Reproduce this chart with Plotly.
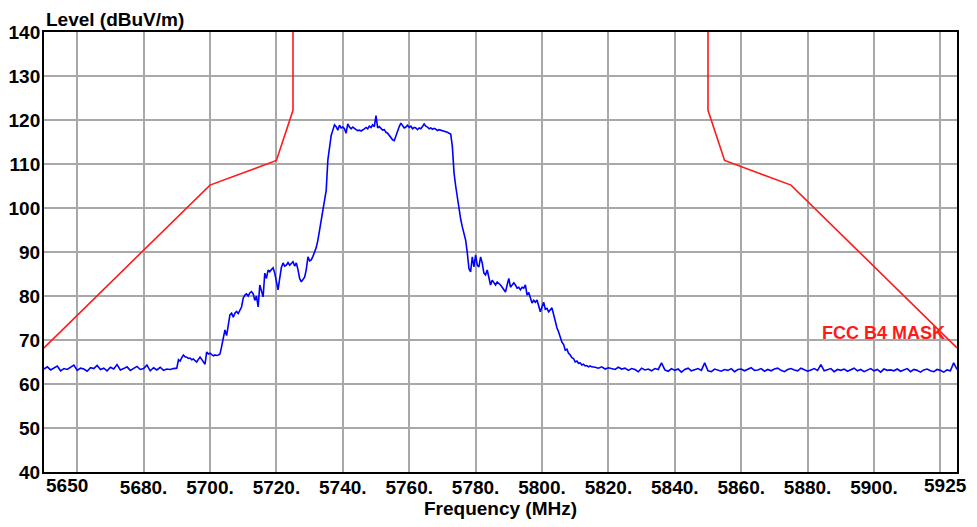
import plotly.graph_objects as go

# ---------------- data ----------------
# Measured spectrum: three sweep segments (start MHz, step MHz, levels dBuV/m)
seg_a_start, seg_a_step = 5650.0, 1.0
seg_a_levels = [63.4, 63.9, 63.2, 63.6, 64.1, 63.0, 63.5, 63.3, 63.8, 64.3,
                63.1, 63.6, 63.4, 62.9, 63.7, 63.5, 64.2, 63.3, 63.6, 63.0,
                63.8, 63.4, 64.4, 63.2, 63.5, 63.9, 63.1, 63.6, 64.0, 63.3,
                63.5, 64.3, 63.0, 63.7, 63.2, 63.8, 63.1, 63.4, 63.3, 63.5]

seg_b_start, seg_b_step = 5690.0, 0.5
seg_b_levels = [
    63.6, 65.5, 65.2, 66.0, 66.6, 66.2, 66.1, 65.8, 65.9, 65.5,
    65.7, 65.3, 65.0, 65.6, 66.1, 65.6, 65.0, 64.5, 67.3, 66.8,
    67.0, 66.7, 66.4, 66.6, 66.5, 66.6, 66.8, 68.5, 70.5, 72.3,
    71.0, 73.0, 75.7, 76.1, 75.2, 76.1, 76.5, 76.0, 76.8, 77.5,
    79.5, 80.2, 80.5, 80.0, 80.7, 81.0, 80.5, 79.0, 80.0, 77.5,
    82.5, 81.0, 79.8, 85.2, 84.0, 85.9, 85.5, 86.0, 86.4, 85.2,
    83.2, 81.4, 84.0, 86.5, 87.5, 86.8, 87.0, 87.6, 87.0, 87.5,
    87.8, 86.8, 87.5, 86.0, 84.0, 83.2, 83.8, 84.3, 86.0, 88.9,
    88.0, 88.2, 89.0, 90.0, 91.0, 92.7, 95.0, 97.5, 100.2, 102.0,
    104.0, 110.9, 113.2, 116.5, 117.7, 118.9, 118.5, 117.7, 118.8, 118.2,
    118.4, 118.0, 117.0, 119.1, 118.4, 118.0, 118.4, 118.0, 117.8, 117.6,
    117.7, 117.5, 117.7, 118.0, 118.3, 118.0, 118.6, 118.3, 118.9, 118.5,
    121.0, 118.2, 118.5, 118.0, 117.7, 117.8, 117.2, 117.0, 116.5, 115.9,
    115.5, 115.3, 116.5, 117.7, 118.5, 119.3, 118.6, 118.2, 118.4, 118.8,
    118.3, 118.6, 118.0, 118.3, 118.2, 117.8, 118.2, 118.0, 118.5, 119.1,
    118.6, 118.4, 118.0, 118.2, 117.9, 118.1, 117.9, 117.6, 117.8, 117.7,
    117.5, 117.4, 117.3, 117.2, 117.0, 116.8, 114.0, 108.0, 105.0, 102.5,
    99.5, 97.5, 95.7, 94.0, 92.7, 89.8, 86.2, 85.5, 88.9, 86.6,
    89.3, 87.0, 86.6, 88.9, 87.5, 85.2, 84.8, 85.9, 84.0, 82.5,
    83.6, 83.0, 82.5, 83.2, 82.9, 82.5, 82.0, 81.5, 80.9, 82.5,
    84.0, 82.0, 82.5, 83.0, 82.5, 81.8, 82.0, 81.4, 82.0, 81.8,
    82.5, 80.2, 80.8, 79.8, 78.4, 79.0, 78.6, 79.1, 77.8, 76.4,
    77.5, 78.6, 77.0, 77.2, 76.4, 76.8, 77.3, 75.8, 73.9, 72.8,
    71.8, 70.5, 69.5, 69.0, 67.7, 67.9, 67.0, 66.6, 66.0, 65.8,
    65.0, 65.2, 64.7, 64.8, 64.3, 64.5, 64.1, 64.2, 63.9, 64.1,
    63.9]

seg_c_start, seg_c_step = 5816.0, 1.0
seg_c_levels = [63.8, 63.6, 63.9, 63.4, 63.7, 63.5, 63.3, 63.8, 63.4, 63.6,
                63.1, 63.5, 63.3, 62.8, 63.6, 63.2, 63.4, 63.0, 63.5, 63.3,
                64.8, 63.2, 62.9, 63.5, 63.1, 63.4, 62.7, 63.3, 63.6, 63.0,
                63.2, 63.5, 63.1, 64.8, 63.0, 62.8, 63.4, 63.2, 62.9, 63.3,
                63.1, 63.5, 62.8, 63.3, 63.4, 63.0, 63.3, 63.7, 63.1, 63.2,
                63.5, 62.9, 63.3, 63.0, 63.4, 63.6, 63.1, 62.8, 63.3, 63.5,
                63.2, 63.0, 63.6, 63.3, 62.9, 63.2, 63.5, 63.1, 64.4, 63.0,
                63.2, 63.5, 62.8, 63.3, 63.1, 63.4, 62.9, 63.2, 63.6, 63.0,
                63.3, 62.8, 63.2, 63.5, 63.0, 63.3, 62.7, 63.4, 63.1, 63.2,
                63.0, 63.4, 62.9, 63.2, 63.5, 62.8, 63.3, 63.1, 62.7, 63.2,
                63.4, 63.0, 62.8, 63.3, 63.1, 62.7, 63.2, 63.0, 64.8, 63.3]

# FCC band-4 emission mask
mask_left_freq = [5650, 5700, 5720, 5725, 5725]
mask_left_level = [68.2, 105.2, 110.8, 122.2, 140]
mask_right_freq = [5850, 5850, 5855, 5875, 5925]
mask_right_level = [140, 122.2, 110.8, 105.2, 68.2]

grid_freqs = [5660, 5680, 5700, 5720, 5740, 5760, 5780, 5800, 5820,
              5840, 5860, 5880, 5900, 5920]
grid_labels = ["", "5680.", "5700.", "5720.", "5740.", "5760.", "5780.",
               "5800.", "5820.", "5840.", "5860.", "5880.", "5900.", ""]
level_ticks = [40, 50, 60, 70, 80, 90, 100, 110, 120, 130, 140]

# ---------------- build ----------------
def expand(start, step, levels):
    return [start + i * step for i in range(len(levels))]

freq = (expand(seg_a_start, seg_a_step, seg_a_levels)
        + expand(seg_b_start, seg_b_step, seg_b_levels)
        + expand(seg_c_start, seg_c_step, seg_c_levels))
level = seg_a_levels + seg_b_levels + seg_c_levels

FONT = "Liberation Sans, Arial, sans-serif"
BOLD19 = dict(family=FONT, size=19, color="black", weight="bold")

fig = go.Figure()
fig.add_trace(go.Scatter(x=mask_left_freq, y=mask_left_level, mode="lines",
                         line=dict(color="#ff1a1a", width=1.6), showlegend=False,
                         hoverinfo="skip"))
fig.add_trace(go.Scatter(x=mask_right_freq, y=mask_right_level, mode="lines",
                         line=dict(color="#ff1a1a", width=1.6), showlegend=False,
                         hoverinfo="skip"))
fig.add_trace(go.Scatter(x=freq, y=level, mode="lines",
                         line=dict(color="#0000ff", width=1.6), showlegend=False))

# page body has an 8px default margin, so the figure is sized to fit inside it
fig.update_layout(
    width=961, height=511,
    margin=dict(l=36, r=12, t=24, b=47, autoexpand=False),
    paper_bgcolor="white", plot_bgcolor="white",
    font=BOLD19,
    xaxis=dict(range=[5650, 5925], tickvals=grid_freqs, ticktext=grid_labels,
               showgrid=True, gridcolor="#a8a8a8", gridwidth=2,
               showline=True, linecolor="black", linewidth=2, mirror=True,
               ticks="", zeroline=False, automargin=False,
               ticklabelstandoff=-3,
               tickfont=BOLD19,
               title=dict(text="Frequency (MHz)", standoff=2, font=BOLD19)),
    yaxis=dict(range=[40, 140], tickvals=level_ticks,
               showgrid=True, gridcolor="#a8a8a8", gridwidth=2,
               showline=True, linecolor="black", linewidth=2, mirror=True,
               ticks="", zeroline=False, automargin=False,
               ticklabelstandoff=-2,
               tickfont=BOLD19),
    annotations=[
        dict(text="Level (dBuV/m)", xref="paper", yref="paper", x=0, y=1,
             xanchor="left", yanchor="bottom", showarrow=False, font=BOLD19),
        dict(text="5650", xref="x", yref="paper", x=5650, y=0,
             xanchor="left", yanchor="top", yshift=-1, showarrow=False,
             font=BOLD19),
        dict(text="5925", xref="x", yref="paper", x=5925, y=0,
             xanchor="right", yanchor="top", yshift=-1, xshift=12,
             showarrow=False, font=BOLD19),
        dict(text="FCC B4 MASK", xref="x", yref="y", x=5922, y=71.6,
             xanchor="right", yanchor="middle", showarrow=False,
             font=dict(family=FONT, size=18, color="#ff1a1a", weight="bold")),
    ],
)

fig.write_html("out.html")
